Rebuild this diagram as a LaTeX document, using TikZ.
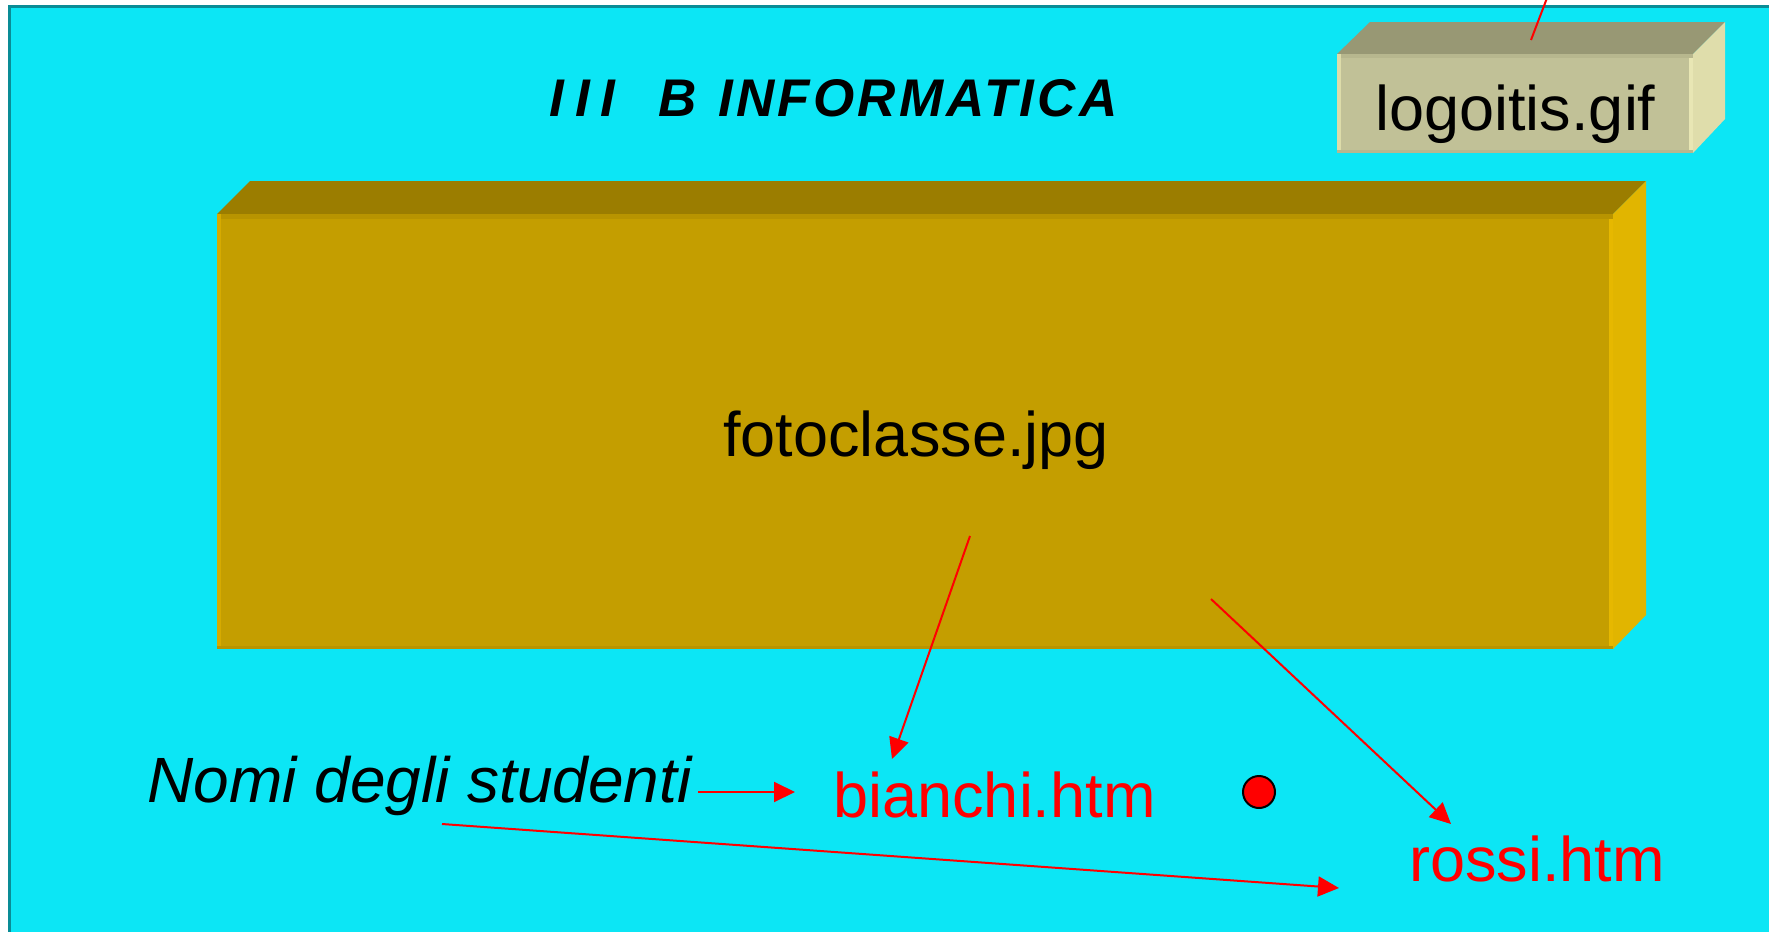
\documentclass[tikz,border=0pt]{standalone}
\usepackage{fontspec}
\setmainfont{Liberation Sans}
\usetikzlibrary{arrows.meta}
\definecolor{bg}{RGB}{12,230,245}
\definecolor{framec}{RGB}{10,140,150}
\definecolor{gfront}{RGB}{196,158,0}
\definecolor{gtop}{RGB}{155,125,0}
\definecolor{gside}{RGB}{225,181,0}
\definecolor{gtopedge}{RGB}{184,148,0}
\definecolor{gleftedge}{RGB}{214,170,0}
\definecolor{grightedge}{RGB}{230,184,0}
\definecolor{lfront}{RGB}{193,193,151}
\definecolor{ltop}{RGB}{152,152,116}
\definecolor{lside}{RGB}{223,221,171}
\definecolor{ltopedge}{RGB}{183,183,142}
\definecolor{lleftedge}{RGB}{221,220,169}
\definecolor{lrightedge}{RGB}{232,230,180}
\tikzset{
  lbl/.style={anchor=base west, inner sep=0pt, font=\fontsize{31.5pt}{36pt}\selectfont},
  link/.style={draw=red, line width=1pt, -{Triangle[length=10.5pt,width=10pt]}},
  plain/.style={draw=red, line width=1pt},
  dotstyle/.style={circle, fill=red, draw=black, line width=1pt, inner sep=0pt, minimum size=16pt},
}
\begin{document}
\begin{tikzpicture}[x=0.5pt,y=-0.5pt]
\useasboundingbox (0,0) rectangle (1769,932);
\fill[white] (0,0) rectangle (1769,932);
\fill[bg] (8,5) rectangle (1769,932);
\draw[framec, line width=1.5pt] (9,932) -- (9,6) -- (1769,6);
% big box
\fill[gtop] (217,214) -- (250,181) -- (1646,181) -- (1613,214) -- cycle;
\fill[gside] (1613,214) -- (1646,181) -- (1646,615) -- (1613,649) -- cycle;
\fill[gfront] (217,214) rectangle (1613,649);
\fill[gtopedge] (217,214) rectangle (1613,219);
\fill[gleftedge] (217,214) rectangle (221,649);
\fill[grightedge] (1609,219) rectangle (1613,649);
\fill[gtopedge] (217,646) rectangle (1613,649);
% logo box
\fill[ltop] (1337,54) -- (1370,22) -- (1725,22) -- (1693,54) -- cycle;
\fill[lside] (1693,54) -- (1725,22) -- (1725,119) -- (1693,153) -- cycle;
\fill[lfront] (1337,54) rectangle (1693,153);
\fill[ltopedge] (1337,54) rectangle (1693,58);
\fill[lleftedge] (1337,54) rectangle (1341,153);
\fill[lrightedge] (1689,58) rectangle (1693,153);
\fill[ltopedge] (1337,150) rectangle (1693,153);
% texts
\node[anchor=base west, inner sep=0pt, font=\fontsize{26.5pt}{30pt}\selectfont\bfseries\itshape\addfontfeatures{LetterSpace=6}] (title) at (549,116) {I\hspace{5.5pt}I\hspace{5.5pt}I\hspace{12.5pt} B\hspace{2pt} INFORMATICA};
\node[lbl] (logo) at (1375,130) {logoitis.gif};
\node[lbl] (foto) at (723,456) {fotoclasse.jpg};
\node[lbl, font=\fontsize{32pt}{36pt}\selectfont\itshape] (nomi) at (147,802) {Nomi degli studenti};
\node[lbl, text=red] (bianchi) at (833,817) {bianchi.htm};
\node[lbl, text=red] (rossi) at (1409,881) {rossi.htm};
\node[dotstyle] (dot) at (1259,792) {};
% connectors
\coordinate (logoS) at (1531,40);
\coordinate (logoE) at (1547,-2);
\draw[plain] (logoS) -- (logoE);
\coordinate (fotoA) at (970,536);
\coordinate (biaT) at (892,759);
\draw[link] (fotoA) -- (biaT);
\coordinate (fotoB) at (1211,599);
\coordinate (rosT) at (1451,824);
\draw[link] (fotoB) -- (rosT);
\coordinate (nomiA) at (698,792);
\coordinate (nomiT) at (795,792);
\draw[link] (nomiA) -- (nomiT);
\coordinate (nomiB) at (442,824);
\coordinate (nomiT2) at (1339,888);
\draw[link] (nomiB) -- (nomiT2);
\end{tikzpicture}
\end{document}
